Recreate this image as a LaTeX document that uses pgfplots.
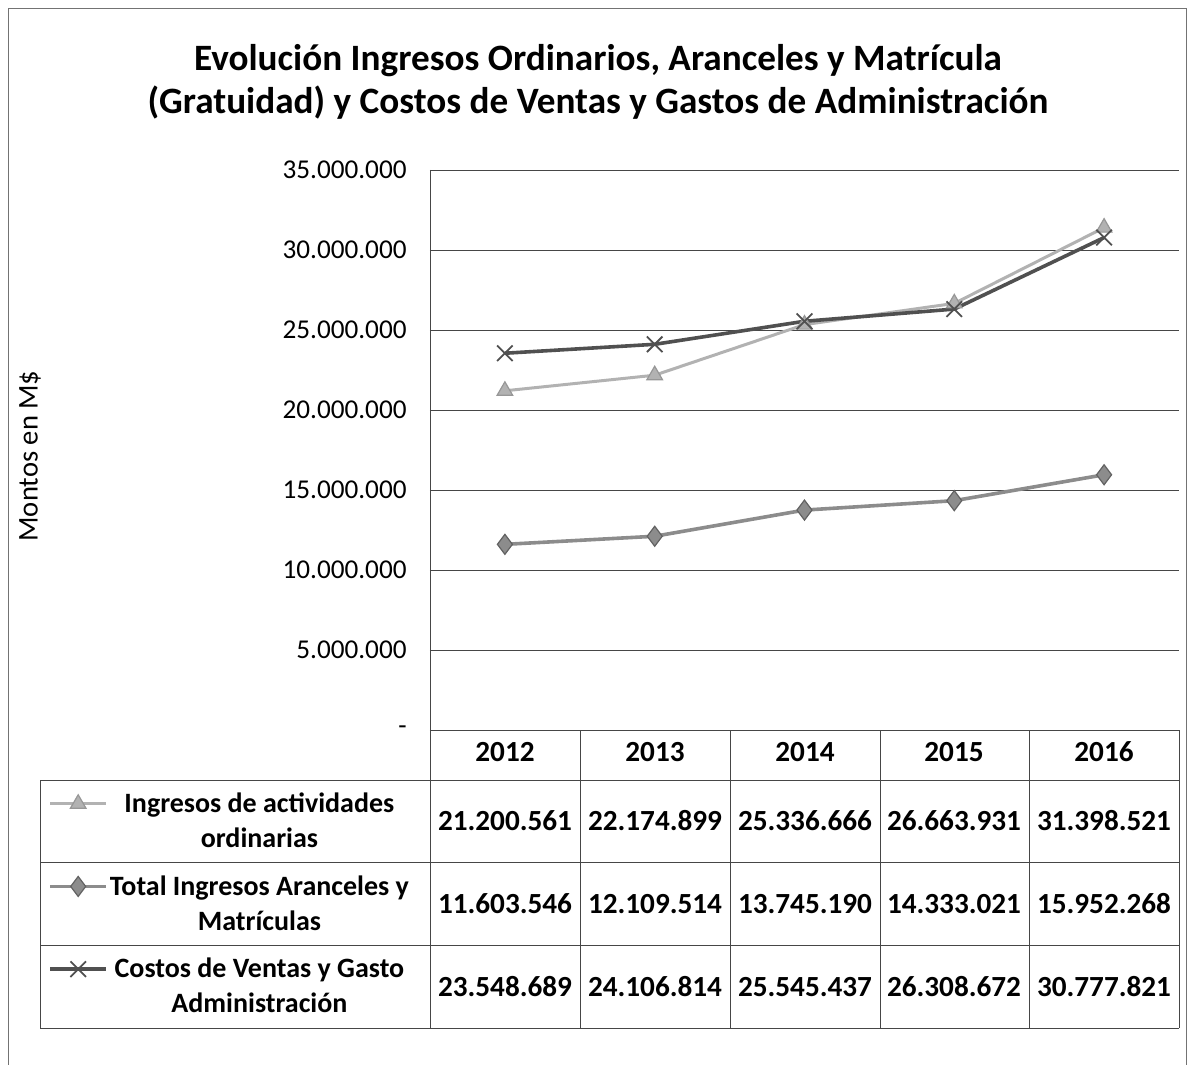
\documentclass[border=0pt]{standalone}
\usepackage{fontspec}
\setmainfont{Carlito}
\usepackage{pgfplots}
\pgfplotsset{compat=1.18}
\definecolor{cIng}{RGB}{178,178,178}
\definecolor{cTot}{RGB}{140,140,140}
\definecolor{cCos}{RGB}{80,80,80}
\definecolor{cGrid}{RGB}{70,70,70}
\begin{document}
\begin{tikzpicture}
\begin{axis}[
  at={(215pt,-365pt)}, anchor=south west,
  scale only axis, width=374.5pt, height=280pt,
  xmin=-0.5, xmax=4.5, ymin=0, ymax=35000000,
  xtick=\empty,
  ytick={0,5000000,10000000,15000000,20000000,25000000,30000000,35000000},
  yticklabels={-,5.000.000,10.000.000,15.000.000,20.000.000,25.000.000,30.000.000,35.000.000},
  scaled y ticks=false,
  yticklabel style={font=\fontsize{13.6}{16}\selectfont, anchor=east, inner sep=0pt, xshift=-11.5pt},
  ymajorgrids, grid style={cGrid, line width=0.5pt},
  major tick length=0pt,
  axis line style={draw=none},
  clip=false,
  legend style={at={(-0.5207,-0.0893)}, anchor=north west, draw=none, fill=none,
    inner xsep=4pt, inner ysep=0pt, row sep=0pt, column sep=1pt,
    cells={anchor=center},
    nodes={inner sep=0pt, minimum height=41.35pt, minimum width=146pt, align=center,
      font=\bfseries\fontsize{14}{17.5}\selectfont}},
  legend image code/.code={\draw[mark repeat=2,mark phase=2,#1,yshift=9pt] plot coordinates {(0pt,0pt) (14pt,0pt) (28pt,0pt)};},
]
\addplot[cIng, line width=1.5pt, mark=triangle*, mark size=4.5pt,
  mark options={fill=cIng, draw=cIng!85!black, line width=0.6pt}]
  coordinates {(0,21200561)(1,22174899)(2,25336666)(3,26663931)(4,31398521)};
\addlegendentry{Ingresos de actividades\\ordinarias}
\addplot[cTot, line width=1.8pt, mark=diamond*, mark size=5pt,
  mark options={fill=cTot, draw=cTot!70!black, line width=0.6pt}]
  coordinates {(0,11603546)(1,12109514)(2,13745190)(3,14333021)(4,15952268)};
\addlegendentry{Total Ingresos Aranceles y\\Matrículas}
\addplot[cCos, line width=1.8pt, mark=x, mark size=5.5pt,
  mark options={draw=cCos, line width=0.9pt}]
  coordinates {(0,23548689)(1,24106814)(2,25545437)(3,26308672)(4,30777821)};
\addlegendentry{Costos de Ventas y Gasto\\Administración}
\end{axis}
\begin{scope}[x=0.5pt,y=-0.5pt]
  % outer frame
  \draw[black!55, line width=0.5pt] (8,1065) -- (8,9) -- (1186,9) -- (1186,1065);
  % title
  \node[align=center, font=\bfseries\fontsize{18.6}{21.5}\selectfont] at (598,82)
    {Evolución Ingresos Ordinarios, Aranceles y Matrícula\\(Gratuidad) y Costos de Ventas y Gastos de Administración};
  % y label
  \node[rotate=90, font=\fontsize{14.3}{17}\selectfont] at (30,456) {Montos en M\$};
  % axis left line and table grid
  \draw[cGrid, line width=0.5pt] (430,170) -- (430,1028);
  \foreach \xx in {580,730,880,1029,1179} \draw[cGrid, line width=0.5pt] (\xx,730) -- (\xx,1028);
  \foreach \yy in {780,862,945,1028} \draw[cGrid, line width=0.5pt] (40,\yy) -- (1179,\yy);
  \draw[cGrid, line width=0.5pt] (40,780) -- (40,1028);
  % table content
  \begin{scope}[every node/.style={anchor=base, inner sep=0pt, font=\bfseries\fontsize{14.6}{17.5}\selectfont}]
    \node at (505,761) {2012};
    \node at (655,761) {2013};
    \node at (805,761) {2014};
    \node at (954,761) {2015};
    \node at (1104,761) {2016};
    \node at (505,830) {21.200.561};
    \node at (655,830) {22.174.899};
    \node at (805,830) {25.336.666};
    \node at (954,830) {26.663.931};
    \node at (1104,830) {31.398.521};
    \node at (505,913) {11.603.546};
    \node at (655,913) {12.109.514};
    \node at (805,913) {13.745.190};
    \node at (954,913) {14.333.021};
    \node at (1104,913) {15.952.268};
    \node at (505,996) {23.548.689};
    \node at (655,996) {24.106.814};
    \node at (805,996) {25.545.437};
    \node at (954,996) {26.308.672};
    \node at (1104,996) {30.777.821};
  \end{scope}
  \pgfresetboundingbox
  \path[use as bounding box] (0,0) rectangle (1190,1065);
\end{scope}
\end{tikzpicture}
\end{document}
